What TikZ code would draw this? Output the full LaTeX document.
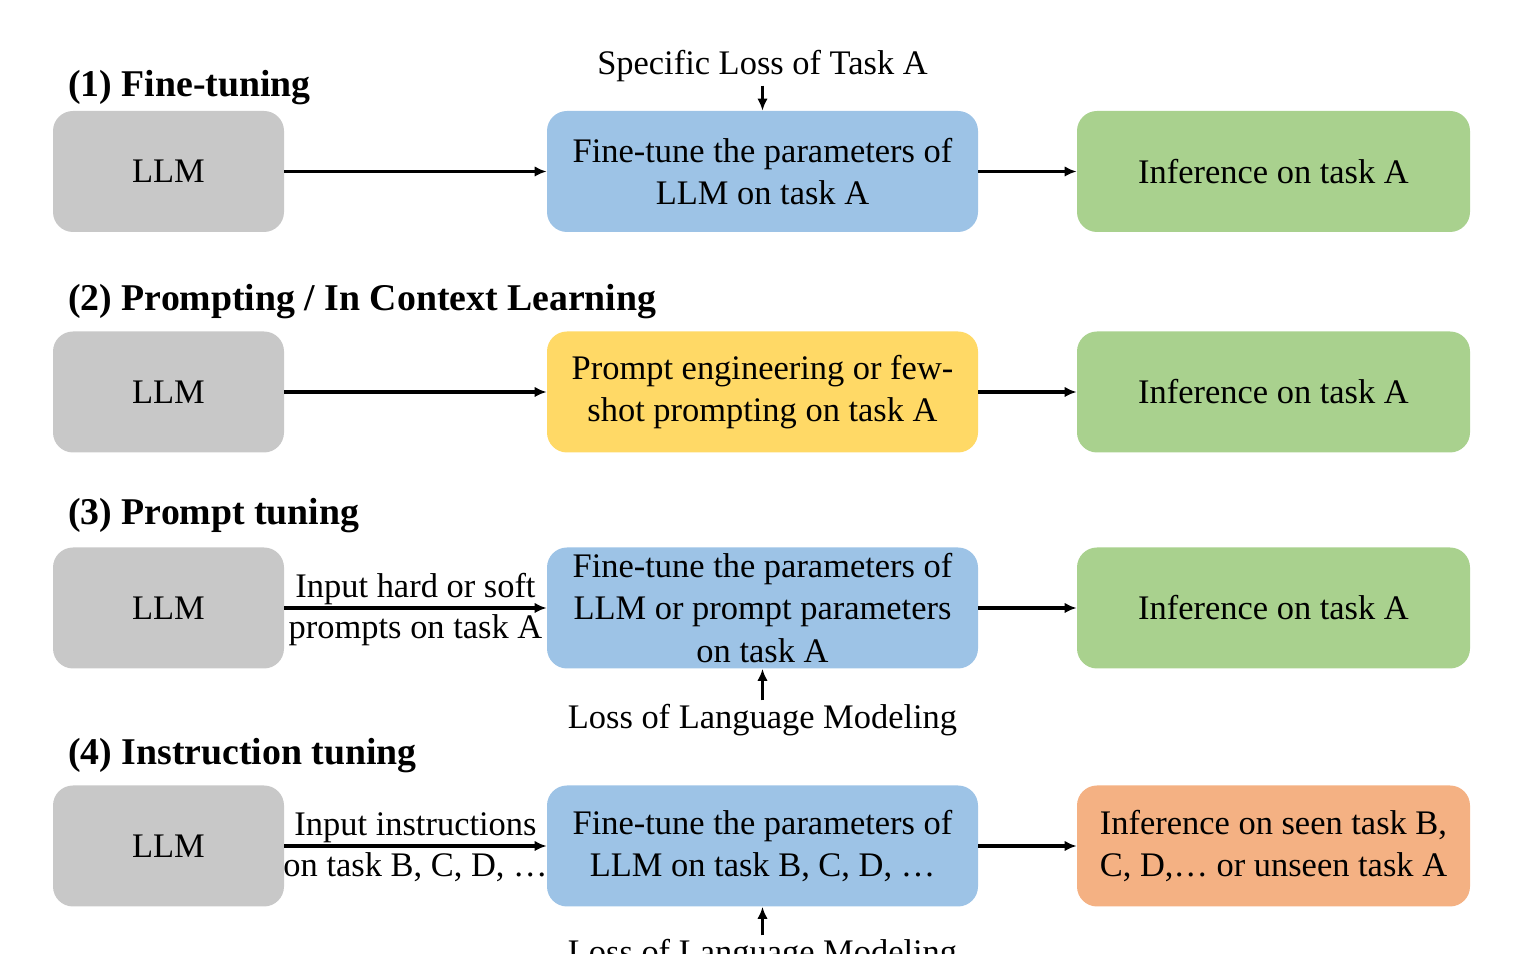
\documentclass[tikz,border=0pt]{standalone}
\usepackage{fontspec}
\setmainfont{Liberation Serif}
\usepackage{tikz}
\usetikzlibrary{arrows.meta,positioning}
\definecolor{llmgray}{RGB}{200,200,200}
\definecolor{tuneblue}{RGB}{157,195,230}
\definecolor{infgreen}{RGB}{169,209,142}
\definecolor{promptyellow}{RGB}{255,217,102}
\definecolor{unseenorange}{RGB}{244,177,131}
\tikzset{
  flow/.style={-{Latex[length=2.4mm,width=2.1mm]},line width=2pt},
  box/.style={draw=none,fill=tuneblue,rounded corners=0.4cm,align=center,
              minimum height=2.42cm,inner sep=2pt,font=\fontsize{19.6}{24}\selectfont},
  llm/.style={box,fill=llmgray,minimum width=4.62cm},
  tune/.style={box,minimum width=8.62cm},
  prompt/.style={tune,fill=promptyellow},
  infer/.style={box,fill=infgreen,minimum width=7.86cm},
  unseen/.style={infer,fill=unseenorange},
  heading/.style={anchor=west,inner sep=0pt,font=\fontsize{21.5}{26}\selectfont\bfseries},
  lab/.style={align=center,inner sep=2pt,font=\fontsize{19.6}{24}\selectfont},
}

\begin{document}
\begin{tikzpicture}[x=1cm,y=1cm]
  \path[use as bounding box] (0,0) rectangle (30.38,19.08);

  % (1) fine-tuning
  \node[heading] (h1) at (1.36,17.32) {(1) Fine-tuning};
  \node[llm] (llm1) at (3.37,15.65) {LLM};
  \node[tune] (ft1) at (15.25,15.65) {Fine-tune the parameters of\\LLM on task A};
  \node[infer] (inf1) at (25.47,15.65) {Inference on task A};
  \node[lab] (loss1) at (15.25,17.76) {Specific Loss of Task A};
  \draw[flow] (llm1) -- (ft1);
  \draw[flow] (ft1) -- (inf1);
  \draw[flow] (loss1.south) -- (ft1.north);

  % (2) prompting
  \node[heading] (h2) at (1.36,13.04) {(2) Prompting / In Context Learning};
  \node[llm] (llm2) at (3.37,11.24) {LLM};
  \node[prompt] (pe2) at (15.25,11.24) {Prompt engineering or few-\\shot prompting on task A};
  \node[infer] (inf2) at (25.47,11.24) {Inference on task A};
  \draw[flow] (llm2) -- (pe2);
  \draw[flow] (pe2) -- (inf2);

  % (3) prompt tuning
  \node[heading] (h3) at (1.36,8.76) {(3) Prompt tuning};
  \node[llm] (llm3) at (3.37,6.92) {LLM};
  \node[tune] (ft3) at (15.25,6.92)
    {Fine-tune the parameters of\\LLM or prompt parameters\\on task A};
  \node[infer] (inf3) at (25.47,6.92) {Inference on task A};
  \node[lab] (loss3) at (15.25,4.68) {Loss of Language Modeling};
  \draw[flow] (llm3) -- node[lab,above=-1pt] {Input hard or soft}
                        node[lab,below=1pt] {prompts on task A} (ft3);
  \draw[flow] (ft3) -- (inf3);
  \draw[flow] (loss3.north) -- (ft3.south);

  % (4) instruction tuning
  \node[heading] (h4) at (1.36,3.96) {(4) Instruction tuning};
  \node[llm] (llm4) at (3.37,2.16) {LLM};
  \node[tune] (ft4) at (15.25,2.16) {Fine-tune the parameters of\\LLM on task B, C, D, \dots};
  \node[unseen] (inf4) at (25.47,2.16) {Inference on seen task B,\\C, D,\dots\ or unseen task A};
  \node[lab] (loss4) at (15.25,-0.02) {Loss of Language Modeling};
  \draw[flow] (llm4) -- node[lab,above=-1pt] {Input instructions}
                        node[lab,below=1pt] {on task B, C, D, \dots} (ft4);
  \draw[flow] (ft4) -- (inf4);
  \draw[flow] (loss4.north) -- (ft4.south);
\end{tikzpicture}
\end{document}
